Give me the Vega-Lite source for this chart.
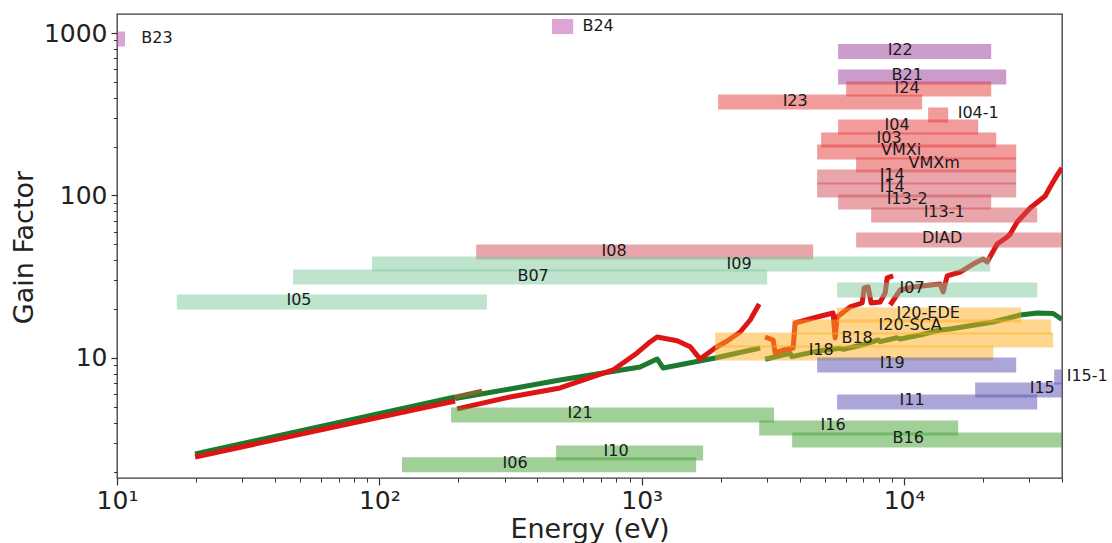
{
  "$schema": "https://vega.github.io/schema/vega-lite/v6.json",
  "width": 945,
  "height": 464,
  "autosize": {"type": "none"},
  "padding": {"left": 117, "top": 14, "right": 50, "bottom": 65},
  "background": "white",
  "config": {"view": {"stroke": "#3a3a3a", "strokeWidth": 1.3}, "font": "DejaVu Sans"},
  "datasets": {
    "green": [
      {"s": "G1", "e": 19.84, "g": 2.566}, {"s": "G1", "e": 194.4, "g": 5.754},
      {"s": "G2", "e": 194.4, "g": 5.64}, {"s": "G2", "e": 314.9, "g": 6.45}, {"s": "G2", "e": 488.6, "g": 7.32}, {"s": "G2", "e": 986, "g": 8.8}, {"s": "G2", "e": 1145, "g": 9.86}, {"s": "G2", "e": 1206, "g": 8.68}, {"s": "G2", "e": 1905, "g": 10.0}, {"s": "G2", "e": 2829, "g": 11.52},
      {"s": "G3", "e": 2955, "g": 9.82}, {"s": "G3", "e": 3680, "g": 10.69}, {"s": "G3", "e": 3736, "g": 10.19}, {"s": "G3", "e": 4583, "g": 10.94}, {"s": "G3", "e": 4787, "g": 11.09}, {"s": "G3", "e": 5706, "g": 11.47}, {"s": "G3", "e": 5875, "g": 11.31}, {"s": "G3", "e": 6905, "g": 12.02}, {"s": "G3", "e": 7988, "g": 12.91}, {"s": "G3", "e": 8109, "g": 12.6}, {"s": "G3", "e": 9389, "g": 13.33}, {"s": "G3", "e": 9665, "g": 13.09}, {"s": "G3", "e": 11518, "g": 13.86}, {"s": "G3", "e": 13733, "g": 14.87}, {"s": "G3", "e": 14994, "g": 15.09}, {"s": "G3", "e": 21867, "g": 16.66}, {"s": "G3", "e": 27716, "g": 18.39}, {"s": "G3", "e": 32172, "g": 18.92}, {"s": "G3", "e": 37024, "g": 18.8}, {"s": "G3", "e": 38500, "g": 18.0}, {"s": "G3", "e": 40000, "g": 17.3}
    ],
    "brown": [
      {"s": "G1b", "e": 194.4, "g": 5.754}, {"s": "G1b", "e": 246.3, "g": 6.27}
    ],
    "red": [
      {"s": "R1", "e": 19.84, "g": 2.459}, {"s": "R1", "e": 194.4, "g": 5.44},
      {"s": "R2", "e": 197.8, "g": 4.86}, {"s": "R2", "e": 314.9, "g": 5.75}, {"s": "R2", "e": 488.6, "g": 6.54}, {"s": "R2", "e": 778, "g": 8.44}, {"s": "R2", "e": 960.5, "g": 10.74}, {"s": "R2", "e": 1076, "g": 12.55}, {"s": "R2", "e": 1145, "g": 13.47}, {"s": "R2", "e": 1365, "g": 12.78}, {"s": "R2", "e": 1530, "g": 11.73}, {"s": "R2", "e": 1641, "g": 10.19}, {"s": "R2", "e": 1670, "g": 9.86}, {"s": "R2", "e": 1905, "g": 11.52}, {"s": "R2", "e": 2117, "g": 12.72}, {"s": "R2", "e": 2373, "g": 14.45}, {"s": "R2", "e": 2591, "g": 17.13}, {"s": "R2", "e": 2804, "g": 21.49},
      {"s": "R3", "e": 2955, "g": 13.47}, {"s": "R3", "e": 3170, "g": 12.91}, {"s": "R3", "e": 3226, "g": 10.74}, {"s": "R3", "e": 3460, "g": 11.2}, {"s": "R3", "e": 3778, "g": 11.52}, {"s": "R3", "e": 3845, "g": 16.42}, {"s": "R3", "e": 4664, "g": 17.88}, {"s": "R3", "e": 5366, "g": 18.92}, {"s": "R3", "e": 5461, "g": 13.28}, {"s": "R3", "e": 5557, "g": 17.88}, {"s": "R3", "e": 6231, "g": 20.6}, {"s": "R3", "e": 6924, "g": 21.8}, {"s": "R3", "e": 7047, "g": 26.96}, {"s": "R3", "e": 7298, "g": 27.35}, {"s": "R3", "e": 7493, "g": 21.8}, {"s": "R3", "e": 8109, "g": 22.11}, {"s": "R3", "e": 8472, "g": 25.12}, {"s": "R3", "e": 8622, "g": 31.07}, {"s": "R3", "e": 9088, "g": 31.97},
      {"s": "R4", "e": 8853, "g": 21.19}, {"s": "R4", "e": 9665, "g": 26.21}, {"s": "R4", "e": 10832, "g": 27.35}, {"s": "R4", "e": 13733, "g": 28.53}, {"s": "R4", "e": 14100, "g": 25.48}, {"s": "R4", "e": 14599, "g": 31.97}, {"s": "R4", "e": 16363, "g": 33.82}, {"s": "R4", "e": 18346, "g": 37.88}, {"s": "R4", "e": 20028, "g": 40.67}, {"s": "R4", "e": 20743, "g": 38.98}, {"s": "R4", "e": 22646, "g": 50.29}, {"s": "R4", "e": 24732, "g": 55.5}, {"s": "R4", "e": 25386, "g": 57.97}, {"s": "R4", "e": 26996, "g": 68.7}, {"s": "R4", "e": 30258, "g": 83.8}, {"s": "R4", "e": 33031, "g": 93.8}, {"s": "R4", "e": 34515, "g": 99.3}, {"s": "R4", "e": 36057, "g": 112.8}, {"s": "R4", "e": 38348, "g": 133.7}, {"s": "R4", "e": 40000, "g": 147.6}
    ],
    "bars": [
      {"n": "B23", "x1": 9, "x2": 10.73, "y": 918, "grp": "pink"},
      {"n": "B24", "x1": 455, "x2": 548, "y": 1096, "grp": "pink"},
      {"n": "I22", "x1": 5608, "x2": 21487, "y": 770, "grp": "purple"},
      {"n": "B21", "x1": 5608, "x2": 24513, "y": 536, "grp": "purple"},
      {"n": "I24", "x1": 6017, "x2": 21487, "y": 452, "grp": "red"},
      {"n": "I23", "x1": 1956, "x2": 11722, "y": 376, "grp": "red"},
      {"n": "I04-1", "x1": 12356, "x2": 14729, "y": 313, "grp": "red"},
      {"n": "I04", "x1": 5608, "x2": 19167, "y": 264, "grp": "red"},
      {"n": "I03", "x1": 4831, "x2": 22450, "y": 219.5, "grp": "red"},
      {"n": "VMXi", "x1": 4664, "x2": 26753, "y": 185, "grp": "red"},
      {"n": "VMXm", "x1": 6567, "x2": 26753, "y": 154, "grp": "red"},
      {"n": "I14", "x1": 4664, "x2": 26753, "y": 130, "grp": "rose"},
      {"n": "I14", "x1": 4664, "x2": 26753, "y": 108, "grp": "rose"},
      {"n": "I13-2", "x1": 5608, "x2": 21487, "y": 91.2, "grp": "rose"},
      {"n": "I13-1", "x1": 7493, "x2": 32172, "y": 75.9, "grp": "rose"},
      {"n": "DIAD", "x1": 6567, "x2": 45000, "y": 53.2, "grp": "rose"},
      {"n": "I08", "x1": 234, "x2": 4503, "y": 44.9, "grp": "rose"},
      {"n": "I09", "x1": 93.8, "x2": 21299, "y": 37.9, "grp": "ltgreen"},
      {"n": "B07", "x1": 46.9, "x2": 3007, "y": 31.5, "grp": "ltgreen"},
      {"n": "I05", "x1": 16.9, "x2": 257, "y": 22.1, "grp": "ltgreen"},
      {"n": "I07", "x1": 5557, "x2": 32172, "y": 26.2, "grp": "ltgreen"},
      {"n": "I20-EDE", "x1": 5557, "x2": 27961, "y": 18.4, "grp": "orange"},
      {"n": "I20-SCA", "x1": 3745, "x2": 36375, "y": 15.5, "grp": "orange"},
      {"n": "B18", "x1": 1905, "x2": 37024, "y": 12.9, "grp": "orange"},
      {"n": "I18", "x1": 1905, "x2": 21867, "y": 10.74, "grp": "orange"},
      {"n": "I19", "x1": 4664, "x2": 26753, "y": 9.06, "grp": "blue"},
      {"n": "I15-1", "x1": 37349, "x2": 45000, "y": 7.64, "grp": "blue"},
      {"n": "I15", "x1": 18668, "x2": 45000, "y": 6.35, "grp": "blue"},
      {"n": "I11", "x1": 5557, "x2": 32172, "y": 5.36, "grp": "blue"},
      {"n": "I21", "x1": 187.7, "x2": 3196, "y": 4.46, "grp": "green"},
      {"n": "I16", "x1": 2804, "x2": 16080, "y": 3.71, "grp": "green"},
      {"n": "B16", "x1": 3745, "x2": 45000, "y": 3.13, "grp": "green"},
      {"n": "I10", "x1": 471.7, "x2": 1714, "y": 2.6, "grp": "green"},
      {"n": "I06", "x1": 122, "x2": 1612, "y": 2.2, "grp": "green"}
    ],
    "labels": [
      {"t": "B23", "x": 14.2, "y": 931},
      {"t": "B24", "x": 682, "y": 1104},
      {"t": "I22", "x": 9665, "y": 786},
      {"t": "B21", "x": 10275, "y": 551},
      {"t": "I24", "x": 10275, "y": 458.6},
      {"t": "I23", "x": 3846, "y": 381.5},
      {"t": "I04-1", "x": 19167, "y": 321.9},
      {"t": "I04", "x": 9412, "y": 269.7},
      {"t": "I03", "x": 8774, "y": 225.9},
      {"t": "VMXi", "x": 9750, "y": 190.5},
      {"t": "VMXm", "x": 13024, "y": 159.6},
      {"t": "I14", "x": 9009, "y": 133.7},
      {"t": "I14", "x": 9009, "y": 112.8},
      {"t": "I13-2", "x": 10275, "y": 95.2},
      {"t": "I13-1", "x": 14220, "y": 78.6},
      {"t": "DIAD", "x": 13975, "y": 54.8},
      {"t": "I08", "x": 785, "y": 45.6},
      {"t": "I09", "x": 2351, "y": 38.15},
      {"t": "B07", "x": 385.5, "y": 31.97},
      {"t": "I05", "x": 49.4, "y": 22.75},
      {"t": "I07", "x": 10737, "y": 26.97},
      {"t": "I20-EDE", "x": 12356, "y": 18.92},
      {"t": "I20-SCA", "x": 10550, "y": 15.96},
      {"t": "B18", "x": 6625, "y": 13.28},
      {"t": "I18", "x": 4831, "y": 11.2},
      {"t": "I19", "x": 9009, "y": 9.32},
      {"t": "I15-1", "x": 49900, "y": 7.75},
      {"t": "I15", "x": 33618, "y": 6.54},
      {"t": "I11", "x": 10737, "y": 5.51},
      {"t": "I21", "x": 582.5, "y": 4.59},
      {"t": "I16", "x": 5366, "y": 3.87},
      {"t": "B16", "x": 10366, "y": 3.22},
      {"t": "I10", "x": 798.8, "y": 2.677},
      {"t": "I06", "x": 329.2, "y": 2.259}
    ]
  },
  "layer": [
    {
      "data": {"name": "green"},
      "mark": {"type": "line", "strokeWidth": 5, "color": "#1b7a2e", "clip": true, "strokeJoin": "round"},
      "encoding": {
        "x": {"field": "e", "type": "quantitative", "scale": {"type": "log", "domain": [10, 40000], "nice": false, "padding": 0},
          "axis": {"orient": "bottom", "values": [10, 100, 1000, 10000], "labelExpr": "'10' + ['⁰','¹','²','³','⁴','⁵'][round(log(datum.value)/LN10)]", "labelFontSize": 25, "labelColor": "#222", "labelFlush": false, "labelOverlap": false, "labelPadding": 3, "tickSize": 7, "tickColor": "#333", "tickWidth": 1.2, "domain": false, "grid": false, "title": "Energy (eV)", "titleFontSize": 27, "titleFontWeight": "normal", "titleColor": "#222", "titleY": 59, "titleBaseline": "alphabetic"}},
        "y": {"field": "g", "type": "quantitative", "scale": {"type": "log", "domain": [1.826, 1309], "nice": false, "padding": 0},
          "axis": {"orient": "left", "values": [10, 100, 1000], "format": "d", "labelFontSize": 25, "labelColor": "#222", "labelOverlap": false, "labelPadding": 4, "tickSize": 6, "tickColor": "#333", "tickWidth": 1.2, "domain": false, "grid": false, "title": "Gain Factor", "titleFontSize": 27, "titleFontWeight": "normal", "titleColor": "#222", "titleX": -85, "titleY": 233, "titleAngle": 270, "titleBaseline": "alphabetic", "titleAlign": "center"}},
        "detail": {"field": "s", "type": "nominal"}
      }
    },
    {
      "data": {"name": "red"},
      "mark": {"type": "line", "strokeWidth": 5, "color": "#dd1515", "clip": true, "strokeJoin": "round"},
      "encoding": {
        "x": {"field": "e", "type": "quantitative", "scale": {"type": "log", "domain": [10, 40000], "nice": false, "padding": 0}, "axis": null},
        "y": {"field": "g", "type": "quantitative", "scale": {"type": "log", "domain": [1.826, 1309], "nice": false, "padding": 0}, "axis": null},
        "detail": {"field": "s", "type": "nominal"}
      }
    },
    {
      "data": {"name": "brown"},
      "mark": {"type": "line", "strokeWidth": 4.5, "color": "#7a6a2c", "clip": true},
      "encoding": {
        "x": {"field": "e", "type": "quantitative", "scale": {"type": "log", "domain": [10, 40000], "nice": false, "padding": 0}, "axis": null},
        "y": {"field": "g", "type": "quantitative", "scale": {"type": "log", "domain": [1.826, 1309], "nice": false, "padding": 0}, "axis": null}
      }
    },
    {
      "data": {"name": "bars"},
      "mark": {"type": "bar", "size": 15, "opacity": 0.5, "clip": true},
      "encoding": {
        "x": {"field": "x1", "type": "quantitative", "scale": {"type": "log", "domain": [10, 40000], "nice": false, "padding": 0},
          "axis": {"orient": "bottom", "values": [20, 30, 40, 50, 60, 70, 80, 90, 200, 300, 400, 500, 600, 700, 800, 900, 2000, 3000, 4000, 5000, 6000, 7000, 8000, 9000, 20000, 30000, 40000], "labels": false, "tickSize": 4, "tickColor": "#333", "tickWidth": 1, "domain": false, "grid": false, "title": null}},
        "x2": {"field": "x2"},
        "y": {"field": "y", "type": "quantitative", "scale": {"type": "log", "domain": [1.826, 1309], "nice": false, "padding": 0},
          "axis": {"orient": "left", "values": [2, 3, 4, 5, 6, 7, 8, 9, 20, 30, 40, 50, 60, 70, 80, 90, 200, 300, 400, 500, 600, 700, 800, 900], "labels": false, "tickSize": 3.5, "tickColor": "#333", "tickWidth": 1, "domain": false, "grid": false, "title": null}},
        "color": {"field": "grp", "type": "nominal", "legend": null,
          "scale": {"domain": ["pink", "purple", "red", "rose", "ltgreen", "green", "orange", "blue"],
                    "range": ["#bd49ad", "#973797", "#e53737", "#d14b55", "#7dc99b", "#41a131", "#fdad1d", "#554fb1"]}}
      }
    },
    {
      "data": {"name": "labels"},
      "mark": {"type": "text", "fontSize": 16, "color": "#1a1a1a", "align": "center", "baseline": "middle"},
      "encoding": {
        "x": {"field": "x", "type": "quantitative", "scale": {"type": "log", "domain": [10, 40000], "nice": false, "padding": 0}, "axis": null},
        "y": {"field": "y", "type": "quantitative", "scale": {"type": "log", "domain": [1.826, 1309], "nice": false, "padding": 0}, "axis": null},
        "text": {"field": "t", "type": "nominal"}
      }
    }
  ],
  "resolve": {"axis": {"x": "independent", "y": "independent"}}
}
